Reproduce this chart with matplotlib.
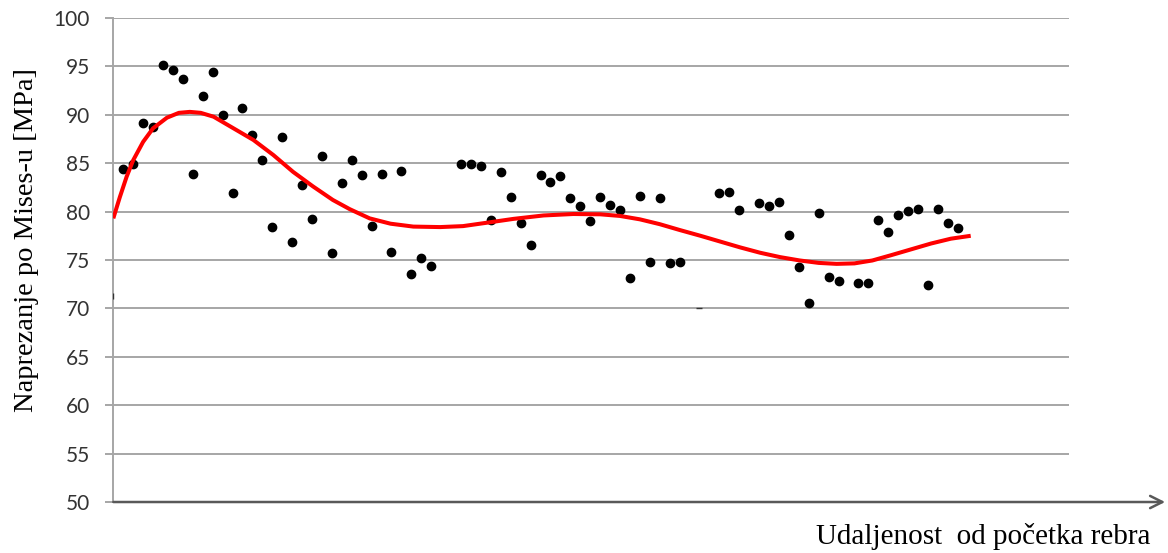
import matplotlib.pyplot as plt

# measurement index along the rib and von Mises stress [MPa]
pos = [1, 2, 3, 4, 5, 6, 7, 8, 9, 10, 11, 12, 13, 14, 15, 16, 17, 18, 19, 20,
       21, 22, 23, 24, 25, 26, 27, 28, 29, 30, 31, 32, 35, 36, 37, 38, 39, 40,
       41, 42, 43, 44, 45, 46, 47, 48, 49, 50, 51, 52, 53, 54, 55, 56, 57,
       61, 62, 63, 65, 66, 67, 68, 69, 70, 71, 72, 73, 75, 76, 77, 78, 79,
       80, 81, 82, 83, 84, 85]
stress = [84.4, 84.9, 89.2, 88.7, 95.1, 94.6, 93.7, 83.9, 91.9, 94.4, 90.0,
          81.9, 90.7, 87.9, 85.3, 78.4, 87.7, 76.9, 82.7, 79.2, 85.7, 75.7,
          83.0, 85.3, 83.8, 78.5, 83.9, 75.8, 84.2, 73.6, 75.2, 74.4, 84.9,
          84.9, 84.75, 79.1, 84.1, 81.5, 78.8, 76.5, 83.8, 83.1, 83.7, 81.4,
          80.55, 79.0, 81.5, 80.7, 80.2, 73.1, 81.6, 74.8, 81.4, 74.7, 74.8,
          81.9, 82.0, 80.2, 80.85, 80.55, 81.0, 77.6, 74.3, 70.6, 79.9, 73.2,
          72.8, 72.6, 72.6, 79.1, 77.9, 79.6, 80.1, 80.3, 72.4, 80.3, 78.8,
          78.3]

# barely visible points (clipped at the axis / hidden on a gridline)
edge_pos = [0, 59]
edge_stress = [71.3, 70.0]

# trendline
trend_pos = [0, 0.66, 1.34, 2.0, 3.0, 4.0, 5.4, 6.6, 7.7, 8.8, 10.1, 12.1,
             14.1, 16.1, 18.1, 20.1, 22.1, 23.8, 25.8, 27.9, 30.2, 32.9, 35.2,
             37.6, 40.3, 43.3, 46.3, 49.0, 51.0, 53.0, 55.0, 57.0, 59.1, 61.1,
             63.1, 65.1, 67.1, 69.1, 71.0, 72.8, 74.6, 76.4, 78.3, 80.3, 82.3,
             84.3, 86.3]
trend_stress = [79.3, 81.5, 83.6, 85.3, 87.2, 88.6, 89.7, 90.2, 90.3, 90.2,
                89.8, 88.6, 87.4, 85.85, 84.1, 82.6, 81.2, 80.25, 79.3, 78.75,
                78.45, 78.4, 78.5, 78.85, 79.25, 79.6, 79.75, 79.72, 79.55,
                79.2, 78.7, 78.1, 77.5, 76.9, 76.3, 75.75, 75.3, 74.95, 74.7,
                74.6, 74.65, 74.95, 75.5, 76.1, 76.7, 77.2, 77.5]

y_ticks = [50, 55, 60, 65, 70, 75, 80, 85, 90, 95, 100]

fig = plt.figure(figsize=(11.68, 5.53), dpi=100)
ax = fig.add_axes([0.097, 0.0922, 0.8183, 0.8753])

ax.plot(trend_pos, trend_stress, color="#ff0000", lw=2.9, zorder=4,
        solid_joinstyle="round", solid_capstyle="butt")

ax.plot(pos, stress, "o", color="black", ms=6, zorder=3)
ax.plot(edge_pos[:1], edge_stress[:1], marker="|", color="#333333", ms=5,
        ls="none", zorder=3)
ax.plot(edge_pos[1:], edge_stress[1:], marker="_", color="#333333", ms=5,
        ls="none", zorder=3)

ax.set_xlim(0, 96.2)
ax.set_ylim(50, 100)
ax.set_yticks(y_ticks)
ax.set_xticks([])
ax.yaxis.grid(True, color="#a6a6a6", lw=1.4)
ax.set_axisbelow(True)
for s in ["top", "right", "bottom"]:
    ax.spines[s].set_visible(False)
ax.spines["left"].set_color("#a6a6a6")
ax.spines["left"].set_linewidth(1.4)
ax.tick_params(axis="y", length=6, width=1.4, color="#a6a6a6", pad=11,
               labelsize=15, labelcolor="#333333")
for lab in ax.get_yticklabels():
    lab.set_family("Lato")

# x axis drawn as an arrow running past the plot area
ax.annotate("", xy=(1.1005, 0), xytext=(0, 0), xycoords="axes fraction",
            textcoords="axes fraction", annotation_clip=False,
            arrowprops=dict(arrowstyle="->", color="#595959", lw=1.8,
                            mutation_scale=22, shrinkA=0, shrinkB=0))

fig.text(27 / 1168, 1 - 240 / 553, "Naprezanje po Mises-u [MPa]",
         rotation=90, ha="center", va="center", fontsize=20.5,
         family="Liberation Serif")
fig.text(1150 / 1168, 1 - 537 / 553, "Udaljenost  od početka rebra",
         ha="right", va="center", fontsize=21, family="Liberation Serif")

fig.savefig("out.png", dpi=100)
